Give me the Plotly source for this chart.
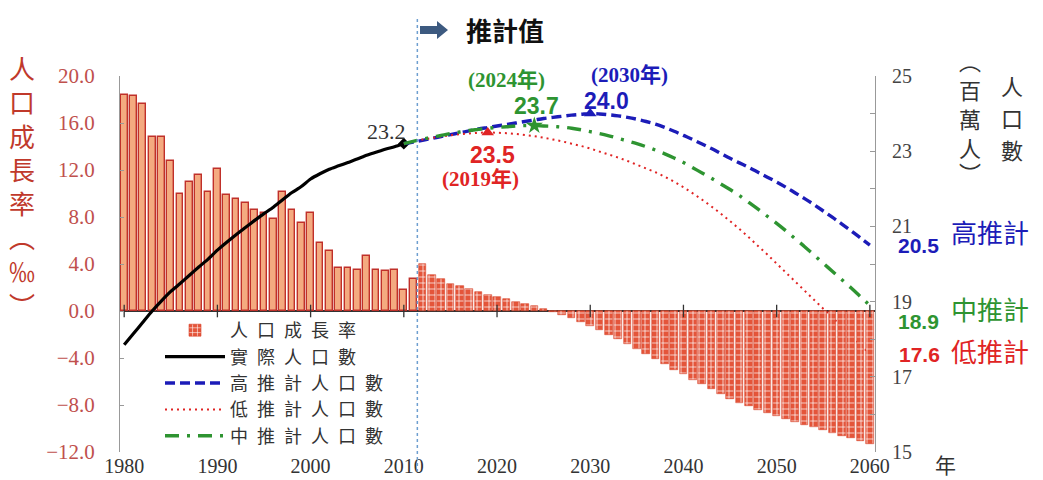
import plotly.graph_objects as go

# ---------------- data ----------------
growth_years_actual = list(range(1980, 2012))
growth_actual = [18.4, 18.3, 17.6, 14.8, 14.8, 12.8, 10.0, 11.0, 11.6, 10.1,
                 12.1, 9.9, 9.5, 9.2, 8.6, 8.3, 7.8, 10.1, 8.6, 7.5,
                 8.3, 5.8, 5.1, 3.7, 3.7, 3.5, 4.7, 3.5, 3.4, 3.5,
                 1.8, 2.7]

growth_years_proj = list(range(2012, 2061))
growth_proj = [4.0, 3.1, 2.7, 2.3, 2.1, 1.85, 1.6, 1.4, 1.2, 1.0,
               0.8, 0.6, 0.4, 0.2,
               -0.1, -0.35, -0.6, -0.9, -1.25, -1.6, -2.0, -2.4, -2.8, -3.25,
               -3.7, -4.1, -4.55, -5.0, -5.4, -5.85, -6.25, -6.65, -7.05, -7.45,
               -7.8, -8.1, -8.4, -8.7, -8.95, -9.2, -9.45, -9.7, -9.9, -10.1,
               -10.35, -10.6, -10.8, -11.05, -11.3]

pop_years_actual = list(range(1980, 2011))
pop_actual = [17.85, 18.15, 18.45, 18.75, 19.02, 19.27, 19.48, 19.70, 19.92, 20.13,
              20.37, 20.58, 20.78, 20.97, 21.16, 21.34, 21.51, 21.71, 21.90, 22.06,
              22.26, 22.40, 22.52, 22.61, 22.70, 22.79, 22.89, 22.97, 23.05, 23.12,
              23.20]

pop_years_proj = list(range(2010, 2061))
pop_high = [23.2, 23.24, 23.29, 23.34, 23.39, 23.44, 23.49, 23.54, 23.59, 23.63,
            23.67, 23.71, 23.75, 23.79, 23.83, 23.87, 23.90, 23.93, 23.96, 23.98,
            24.00, 23.99, 23.97, 23.94, 23.90, 23.85, 23.79, 23.72, 23.63, 23.53,
            23.42, 23.31, 23.19, 23.07, 22.94, 22.81, 22.69, 22.57, 22.44, 22.31,
            22.18, 22.04, 21.89, 21.74, 21.58, 21.41, 21.24, 21.06, 20.88, 20.69,
            20.50]
pop_mid = [23.2, 23.26, 23.32, 23.37, 23.42, 23.47, 23.51, 23.55, 23.58, 23.61,
           23.63, 23.65, 23.67, 23.68, 23.68, 23.67, 23.66, 23.64, 23.61, 23.57,
           23.52, 23.47, 23.41, 23.34, 23.27, 23.20, 23.12, 23.03, 22.93, 22.82,
           22.70, 22.56, 22.42, 22.28, 22.13, 21.98, 21.82, 21.64, 21.46, 21.27,
           21.08, 20.88, 20.67, 20.46, 20.24, 20.02, 19.80, 19.58, 19.36, 19.13,
           18.90]
pop_low = [23.2, 23.26, 23.31, 23.35, 23.39, 23.42, 23.45, 23.47, 23.49, 23.50,
           23.49, 23.48, 23.46, 23.43, 23.40, 23.36, 23.31, 23.26, 23.20, 23.14,
           23.07, 22.99, 22.91, 22.83, 22.74, 22.64, 22.54, 22.44, 22.32, 22.19,
           22.04, 21.88, 21.71, 21.53, 21.34, 21.14, 20.93, 20.71, 20.48, 20.25,
           20.01, 19.77, 19.53, 19.29, 19.05, 18.81, 18.57, 18.33, 18.09, 17.85,
           17.60]

peak_low_year, peak_mid_year, peak_high_year = 2019, 2024, 2030

decade_ticks = list(range(1980, 2061, 10))
decade_labels = [str(y) for y in decade_ticks]

# ---------------- colours ----------------
RED = "#E02424"
GREEN = "#2E9431"
BLUE = "#1C1CB8"
AX_RED = "#C0504D"

# ---------------- plot area geometry (pixels) ----------------
L, R, T, B = 120, 875, 76, 452
W, H = 1043, 480


def px(x):
    return (x - L) / (R - L)


def py(y):
    return (B - y) / (B - T)


SP = "\u2002"


def spaced(s):
    return SP.join(list(s))


fig = go.Figure()

fig.add_trace(go.Bar(
    x=growth_years_actual, y=growth_actual, yaxis="y", width=0.72,
    marker=dict(color="#F4AA80", line=dict(color="#C0302A", width=1.4)),
    name=spaced("人口成長率"), showlegend=False))

# population lines (y2, drawn above y)
fig.add_trace(go.Scatter(
    x=pop_years_actual, y=pop_actual, yaxis="y2", mode="lines",
    line=dict(color="black", width=3.2, shape="spline", smoothing=0.6),
    name=spaced("實際人口數"), legendrank=2))
fig.add_trace(go.Scatter(
    x=[pop_years_actual[-1]], y=[pop_actual[-1]], yaxis="y2", mode="markers",
    marker=dict(symbol="diamond", size=9, color="black"), showlegend=False))

fig.add_trace(go.Scatter(
    x=pop_years_proj, y=pop_high, yaxis="y2", mode="lines",
    line=dict(color=BLUE, width=3.4, dash="10px,5px", shape="spline"),
    name=spaced("高推計人口數"), legendrank=3))
fig.add_trace(go.Scatter(
    x=pop_years_proj, y=pop_low, yaxis="y2", mode="lines",
    line=dict(color=RED, width=2, dash="2px,4px", shape="spline"),
    name=spaced("低推計人口數"), legendrank=4))
fig.add_trace(go.Scatter(
    x=pop_years_proj, y=pop_mid, yaxis="y2", mode="lines",
    line=dict(color=GREEN, width=3.4, dash="14px,8px,3px,8px", shape="spline"),
    name=spaced("中推計人口數"), legendrank=5))

# peak markers
fig.add_trace(go.Scatter(
    x=[peak_low_year], y=[pop_low[pop_years_proj.index(peak_low_year)]], yaxis="y2",
    mode="markers", marker=dict(symbol="triangle-up", size=11, color=RED), showlegend=False))
fig.add_trace(go.Scatter(
    x=[peak_mid_year], y=[pop_mid[pop_years_proj.index(peak_mid_year)]], yaxis="y2",
    mode="markers", marker=dict(symbol="star", size=13, color=GREEN), showlegend=False))
fig.add_trace(go.Scatter(
    x=[peak_high_year], y=[pop_high[pop_years_proj.index(peak_high_year)]], yaxis="y2",
    mode="markers", marker=dict(symbol="triangle-up", size=11, color=BLUE), showlegend=False))

# projected growth bars on y3 (drawn above the population lines, like the reference)
fig.add_trace(go.Bar(
    x=growth_years_proj, y=growth_proj, yaxis="y3", width=0.82,
    marker=dict(color="#E4553A", line=dict(color="#D8442C", width=0.6),
                pattern=dict(shape="+", fgcolor="white", bgcolor="#E4553A",
                             size=6, solidity=0.22)),
    name=spaced("人口成長率"), legendrank=1))

# decade tick marks on the zero line
fig.add_trace(go.Scatter(
    x=decade_ticks, y=[0] * len(decade_ticks), yaxis="y3", mode="markers",
    marker=dict(symbol="line-ns", size=9, line=dict(color="#333", width=1.3)),
    showlegend=False, hoverinfo="skip"))

SERIF = "Liberation Serif"
SANS = "Liberation Sans"
CJK = "Noto Sans CJK TC"

ann = []


def add(text, x, y, color, size, family, bold=False):
    if bold:
        text = "<b>" + text + "</b>"
    ann.append(dict(text=text, x=px(x), y=py(y), xref="paper", yref="paper",
                    xanchor="center", yanchor="middle", showarrow=False,
                    font=dict(color=color, size=size, family=family)))


add("(2024年)", 506, 80, GREEN, 21, SERIF + ", " + CJK, True)
add("23.7", 536, 106, GREEN, 23, SANS, True)
add("(2030年)", 629, 75, BLUE, 21, SERIF + ", " + CJK, True)
add("24.0", 606, 101, BLUE, 23, SANS, True)
add("23.5", 492, 155, RED, 23, SANS, True)
add("(2019年)", 480, 179, RED, 21, SERIF + ", " + CJK, True)
add("23.2", 386, 131, "#333", 22, SERIF)
add("20.5", 918, 245, BLUE, 21, SANS, True)
add("高推計", 990, 231, BLUE, 26, CJK)
add("18.9", 918, 321, GREEN, 21, SANS, True)
add("中推計", 990, 308, GREEN, 26, CJK)
add("17.6", 919, 354, RED, 21, SANS, True)
add("低推計", 990, 350, RED, 26, CJK)
add("年", 945, 464, "#333", 21, CJK)
add("推計值", 505, 30, "#111", 26, CJK, True)
add("人<br>口<br>成<br>長<br>率<br>︵<br>‰<br>︶", 22, 186, "#C0392B", 26, CJK)

# right axis title: two vertical columns, one character per annotation
right_title_col2 = ["人", "口", "數"]
right_title_col1 = ["︵", "百", "萬", "人", "︶"]
for ch, yy in zip(right_title_col2, [85, 117, 149]):
    add(ch, 1012, yy, "#333", 22, CJK)
for ch, yy in zip(right_title_col1, [60, 89, 118, 147, 172]):
    add(ch, 970, yy, "#333", 22, CJK)

# arrow before 推計值
ax0, ax1, ax2 = 420, 437, 448
arrow_path = "M {a},{b} L {c},{b} L {c},{d} L {e},{f} L {c},{g} L {c},{h} L {a},{h} Z".format(
    a=px(ax0), b=py(26), c=px(ax1), d=py(21), e=px(ax2), f=py(30), g=py(39), h=py(34))

shapes = [
    dict(type="line", xref="x", yref="paper", x0=2011.45, x1=2011.45,
         y0=py(472), y1=py(18), line=dict(color="#6E9FD0", width=1.5, dash="dot")),
    dict(type="path", xref="paper", yref="paper", path=arrow_path,
         fillcolor="#3D5A80", line=dict(width=0)),
]

fig.update_layout(
    template="none",
    width=W, height=H,
    margin=dict(l=L, r=W - R, t=T, b=H - B, autoexpand=False),
    paper_bgcolor="white", plot_bgcolor="white",
    barmode="overlay", bargap=0,
    xaxis=dict(range=[1979.55, 2060.55], tickvals=decade_ticks, ticktext=decade_labels,
               tickfont=dict(family=SERIF, size=20, color="#333"),
               showline=False, ticks="", showgrid=False, zeroline=False,
               ticklabelstandoff=0, automargin=False),
    yaxis=dict(range=[-12, 20], dtick=4, tickformat=".1f",
               tickfont=dict(family=SERIF, size=21, color=AX_RED),
               showline=True, linecolor="#999", linewidth=1, ticks="inside",
               ticklen=4, tickcolor="#999", showgrid=False,
               zeroline=True, zerolinecolor="#333", zerolinewidth=1.5,
               ticklabelstandoff=20, automargin=False),
    yaxis2=dict(range=[15, 25], tick0=15, dtick=2, overlaying="y", side="right",
                tickfont=dict(family=SERIF, size=20, color="#444"),
                showline=True, linecolor="#999", linewidth=1, ticks="inside",
                ticklen=5, tickcolor="#999",
                minor=dict(dtick=1, tick0=15, ticks="inside", ticklen=5, tickcolor="#999"),
                showgrid=False, zeroline=False, ticklabelstandoff=12, automargin=False),
    yaxis3=dict(range=[-12, 20], overlaying="y", visible=False, automargin=False),
    legend=dict(x=px(160), y=py(312), xanchor="left", yanchor="top",
                bgcolor="rgba(255,255,255,0)", font=dict(family=CJK, size=18, color="#333"),
                itemwidth=60, tracegroupgap=0),
    annotations=ann, shapes=shapes,
    showlegend=True,
)

fig.write_html("out.html")
